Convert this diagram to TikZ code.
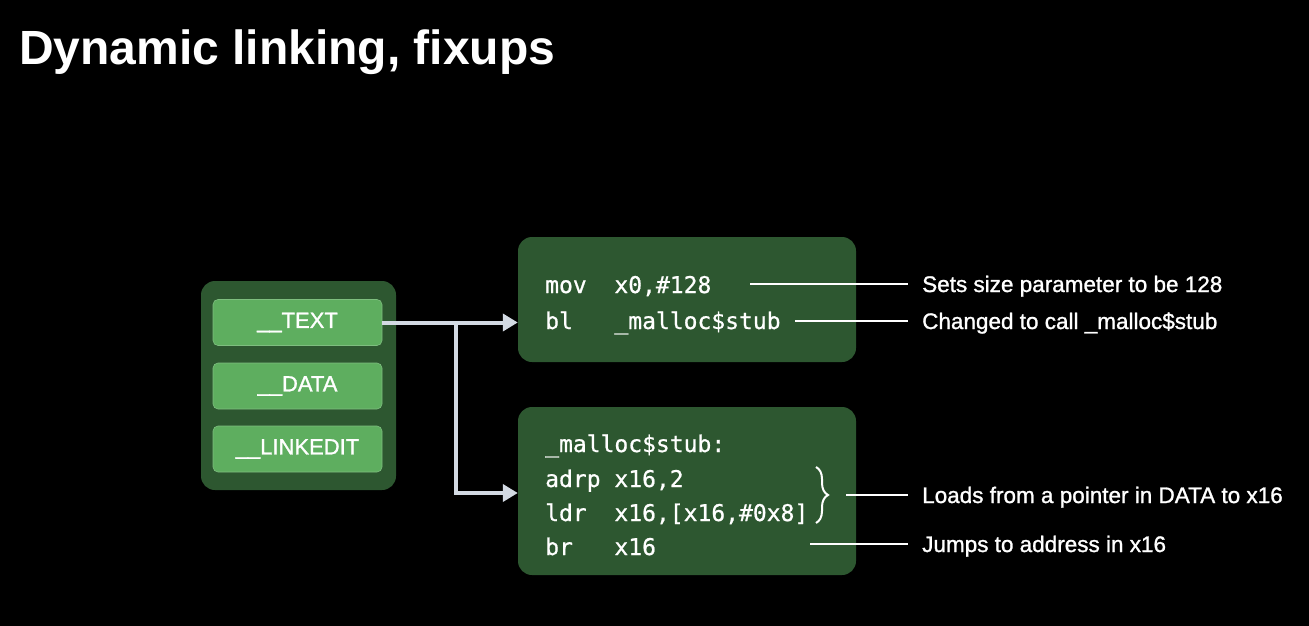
\documentclass[tikz,border=0pt]{standalone}
\usepackage{fontspec}
\setmainfont{Liberation Sans}
\setmonofont[FakeBold=0.8]{DejaVu Sans Mono}
\newfontfamily\medfont[FakeBold=1.2]{Liberation Sans}
\usetikzlibrary{arrows.meta,decorations.pathreplacing}
\definecolor{darkgreen}{HTML}{2D5730}
\definecolor{lightgreen}{HTML}{5EAE5F}
\definecolor{arrowgray}{HTML}{D3DAE3}
\tikzset{
  outerbox/.style={fill=darkgreen, rounded corners=14pt, draw=none},
  seg/.style={fill=lightgreen, rounded corners=5pt, draw=lightgreen!80!white, line width=0.6pt, minimum width=169pt, minimum height=46pt, text=white, font=\medfont\fontsize{22}{24}\selectfont, inner sep=0pt},
  code/.style={anchor=base west, text=white, font=\ttfamily\fontsize{23}{25}\selectfont, inner sep=0pt},
  lbl/.style={anchor=base west, text=white, font=\medfont\fontsize{22.5}{24}\selectfont, inner sep=0pt},
  flow/.style={arrowgray, line width=4pt, -{Triangle[length=15pt,width=17pt]}},
  callout/.style={white, line width=1.3pt},
}
\begin{document}
\begin{tikzpicture}[x=1pt,y=-1pt]
\fill[black] (0,0) rectangle (1309,626);
\useasboundingbox (0,0) rectangle (1309,626);
\node[anchor=base west, text=white, font=\bfseries\fontsize{48}{50}\selectfont, inner sep=0pt] (title) at (19,65) {Dynamic linking, fixups};
% segment container
\fill[outerbox] (201,281) rectangle (396,490);
\node[seg] (text) at (297.5,322.5) {\_\_TEXT};
\node[seg] (data) at (297.5,386) {\_\_DATA};
\node[seg] (link) at (297.5,449) {\_\_LINKEDIT};
% code boxes
\node[outerbox, minimum width=338pt, minimum height=125pt, inner sep=0pt] (top) at (687,299.5) {};
\node[outerbox, minimum width=338pt, minimum height=168pt, inner sep=0pt] (bot) at (687,491) {};
% code text
\node[code] (c1) at (545,293) {mov\ \ x0,\#128};
\node[code] (c2) at (545,329) {bl\ \ \ \_malloc\$stub};
\node[code] (c3) at (545,452) {\_malloc\$stub:};
\node[code] (c4) at (545,487) {adrp x16,2};
\node[code] (c5) at (545,521) {ldr\ \ x16,[x16,\#0x8]};
\node[code] (c6) at (545,555) {br\ \ \ x16};
% arrows
\coordinate (split) at (456,323);
\draw[flow] (text.east) -- (top.west |- text.east);
\draw[flow] (split) -- (456,493) -- (bot.west |- 0,493);
% labels
\node[lbl] (l1) at (922,292) {Sets size parameter to be 128};
\node[lbl] (l2) at (922,329) {Changed to call \_malloc\$stub};
\node[lbl] (l3) at (922,503) {Loads from a pointer in DATA to x16};
\node[lbl] (l4) at (922,552) {Jumps to address in x16};
% callouts
\coordinate (k1) at (750,284);
\coordinate (k2) at (795,321);
\coordinate (k3) at (846,495);
\coordinate (k4) at (810,544);
\draw[callout] (k1) -- (908,284);
\draw[callout] (k2) -- (908,321);
\draw[white, line width=2pt, decorate, decoration={brace, amplitude=12pt}] (816,467) -- (816,523);
\draw[callout] (k3) -- (908,495);
\draw[callout] (k4) -- (908,544);
\end{tikzpicture}
\end{document}
